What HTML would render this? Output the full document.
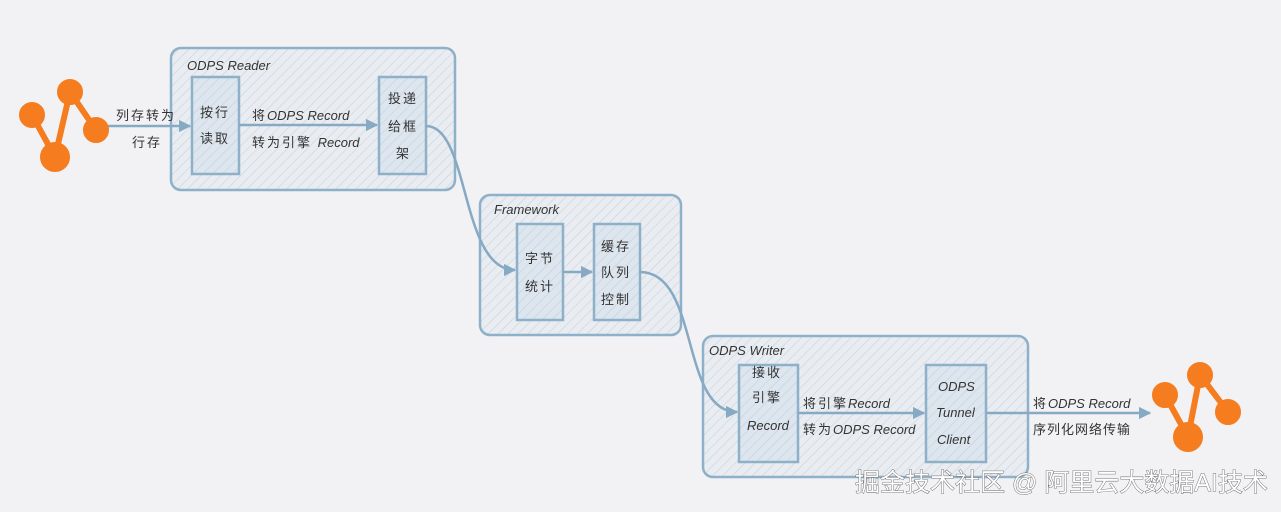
<!DOCTYPE html>
<html><head><meta charset="utf-8"><style>
html,body{margin:0;padding:0;background:#f2f2f4;}
svg{display:block}
text{font-family:"Liberation Sans","Noto Sans CJK SC",sans-serif;fill:#333;}
.i{font-style:italic;letter-spacing:0}
.c{letter-spacing:2px}
</style></head><body>
<svg width="1281" height="512" viewBox="0 0 1281 512" xmlns="http://www.w3.org/2000/svg">
<defs>
<pattern id="h" width="7" height="7" patternUnits="userSpaceOnUse" patternTransform="rotate(45)">
<rect width="7" height="7" fill="#e9edf1"/>
<line x1="0" y1="0" x2="0" y2="7" stroke="#c9d3dc" stroke-width="1.2"/>
</pattern>
<pattern id="h2" width="7" height="7" patternUnits="userSpaceOnUse" patternTransform="rotate(45)">
<rect width="7" height="7" fill="#dde6ee"/>
<line x1="0" y1="0" x2="0" y2="7" stroke="#c4d0db" stroke-width="1.2"/>
</pattern>
<marker id="a" viewBox="0 0 10 10" refX="9" refY="5" markerWidth="5" markerHeight="5" orient="auto"><path d="M0,0L10,5L0,10z" fill="#86a9c4"/></marker>
</defs>
<g stroke="#8eb0c9" stroke-width="2.5">
<rect x="171" y="48" width="284" height="142" rx="10" fill="url(#h)"/>
<rect x="480" y="195" width="201" height="140" rx="10" fill="url(#h)"/>
<rect x="703" y="336" width="325" height="141" rx="10" fill="url(#h)"/>
<rect x="192" y="77" width="47" height="97" fill="url(#h2)"/>
<rect x="379" y="77" width="47" height="97" fill="url(#h2)"/>
<rect x="517" y="224" width="46" height="96" fill="url(#h2)"/>
<rect x="594" y="224" width="46" height="96" fill="url(#h2)"/>
<rect x="739" y="365" width="59" height="97" fill="url(#h2)"/>
<rect x="926" y="365" width="60" height="97" fill="url(#h2)"/>
</g>
<g stroke="#86a9c4" stroke-width="2.5" fill="none" marker-end="url(#a)">
<line x1="108" y1="126" x2="190" y2="126"/>
<line x1="239" y1="125" x2="377" y2="125"/>
<path d="M426,126 C470,126 460,270 515,270"/>
<line x1="563" y1="272" x2="592" y2="272"/>
<path d="M640,272 C700,272 680,412 737,412"/>
<line x1="798" y1="413" x2="924" y2="413"/>
<line x1="986" y1="413" x2="1150" y2="413"/>
</g>
<g stroke="#f57c1f" stroke-width="6" fill="#f57c1f">
<polyline points="32,115 55,157 70,92 96,130" fill="none"/>
<circle cx="32" cy="115" r="10"/><circle cx="70" cy="92" r="10"/><circle cx="96" cy="130" r="10"/><circle cx="55" cy="157" r="12"/>
<polyline points="1165,395 1188,437 1200,375 1228,412" fill="none"/>
<circle cx="1165" cy="395" r="10"/><circle cx="1200" cy="375" r="10"/><circle cx="1228" cy="412" r="10"/><circle cx="1188" cy="437" r="12"/>
</g>
<g font-size="13" class="c">
<text x="187" y="70" class="i">ODPS Reader</text>
<text x="494" y="214" class="i">Framework</text>
<text x="709" y="355" class="i">ODPS Writer</text>
<text x="116" y="120">列存转为</text><text x="132" y="147">行存</text>
<text x="200" y="117">按行</text><text x="200" y="143">读取</text>
<text x="252" y="120">将<tspan class="i">ODPS Record</tspan></text>
<text x="252" y="147">转为引擎 <tspan class="i">Record</tspan></text>
<text x="388" y="103">投递</text><text x="388" y="131">给框</text><text x="396" y="158">架</text>
<text x="525" y="263">字节</text><text x="525" y="291">统计</text>
<text x="601" y="251">缓存</text><text x="601" y="277">队列</text><text x="601" y="304">控制</text>
<text x="752" y="377">接收</text><text x="752" y="402">引擎</text><text x="747" y="430" class="i">Record</text>
<text x="803" y="408">将引擎<tspan class="i">Record</tspan></text>
<text x="803" y="434">转为<tspan class="i">ODPS Record</tspan></text>
<text x="938" y="391" class="i">ODPS</text><text x="936" y="417" class="i">Tunnel</text><text x="937" y="444" class="i">Client</text>
<text x="1033" y="408">将<tspan class="i">ODPS Record</tspan></text>
<text x="1033" y="434" style="letter-spacing:1px">序列化网络传输</text>
</g>
<text x="855" y="491" font-size="25" style="fill:#fff;stroke:#555;stroke-width:0.8;paint-order:stroke">掘金技术社区 @ 阿里云大数据AI技术</text>
</svg>
</body></html>
